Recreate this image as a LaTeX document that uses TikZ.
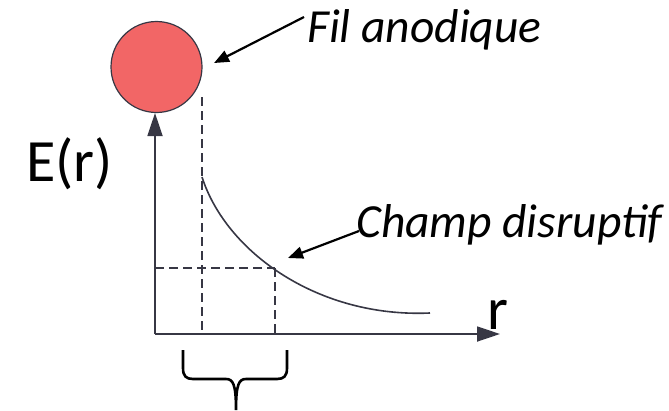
\documentclass[tikz,border=0pt]{standalone}
\usepackage{fontspec}
\setmainfont{Carlito}
\usetikzlibrary{arrows.meta}
\definecolor{wirered}{RGB}{242,102,102}
\definecolor{axisgray}{RGB}{55,55,68}
\tikzset{
  axisline/.style={draw=axisgray, line width=1.8pt},
  bigtip/.style={-{Triangle[length=23pt,width=15pt]}},
  guide/.style={draw=axisgray, line width=1.3pt, dash pattern=on 9pt off 5pt},
  pointer/.style={draw=black, line width=2.2pt, -{Triangle[length=15pt,width=12pt]}},
  lbl/.style={inner sep=0pt, font=\fontsize{47.5}{56}\selectfont\itshape},
  axlbl/.style={inner sep=0pt, font=\fontsize{60}{70}\selectfont}
}
\begin{document}
\begin{tikzpicture}[x=1pt,y=-1pt]
\useasboundingbox (0,0) rectangle (669,410);
% wire
\node[circle, draw=axisgray, line width=1.2pt, fill=wirered, minimum size=91pt, inner sep=0pt] (wire) at (156.5,67) {};
% axes
\coordinate (O) at (155,334);
\coordinate (ytip) at (155,113);
\coordinate (xtip) at (500,334);
\draw[axisline, bigtip] (O) -- (ytip);
\draw[axisline, bigtip] (O) -- (xtip);
% guides
\coordinate (r0top) at (202,97);
\coordinate (r0bot) at (202,334);
\coordinate (rc) at (275,268);
\coordinate (rcbot) at (275,334);
\coordinate (ecleft) at (155,268);
\draw[guide] (r0top) -- (r0bot);
\draw[guide] (rc) -- (rcbot);
\draw[guide] (ecleft) -- (rc);
% curve
\coordinate (cstart) at (202,177);
\coordinate (cend) at (430,313);
\draw[axisline, line width=1.6pt] (cstart) .. controls (226,252) and (318,318) .. (cend);
% labels
\node[axlbl, anchor=base west] (E) at (26,181) {E(r)};
\node[axlbl, anchor=base west] (r) at (487,329) {r};
\node[lbl, anchor=base west] (fil) at (307,42) {Fil anodique};
\node[lbl, anchor=base west] (champ) at (356,237) {Champ disruptif};
% pointers
\coordinate (filtail) at (304,17);
\coordinate (filtip) at (214,63);
\coordinate (chtail) at (359,231);
\coordinate (chtip) at (288,258);
\draw[pointer] (filtail) -- (filtip);
\draw[pointer] (chtail) -- (chtip);
% brace
\coordinate (bl) at (183,350);
\coordinate (br) at (287,350);
\coordinate (bm) at (236,410);
\draw[draw=black, line width=2.6pt, line join=round]
  (bl) -- (183,368) .. controls (183,376) and (186,379) .. (193,379)
  -- (226,379) .. controls (233,379) and (236,384) .. (bm)
  (br) -- (287,368) .. controls (287,376) and (284,379) .. (277,379)
  -- (246,379) .. controls (239,379) and (236,384) .. (bm);
\end{tikzpicture}
\end{document}
